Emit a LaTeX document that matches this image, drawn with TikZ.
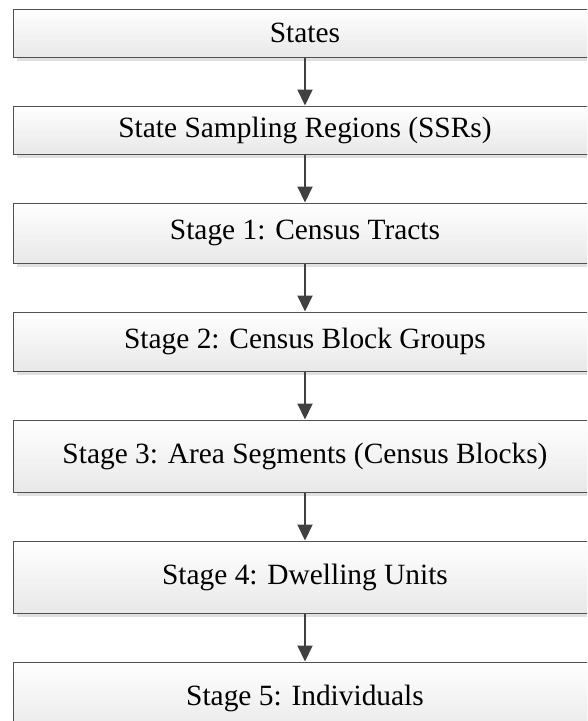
\documentclass[tikz,border=0pt]{standalone}
\usepackage{fontspec}
\setmainfont{Liberation Serif}
\definecolor{edge}{HTML}{404040}
\definecolor{rim}{HTML}{505050}
\usetikzlibrary{arrows.meta, positioning, shadows}

\begin{document}
\begin{tikzpicture}[
    x=1pt, y=1pt,
    node distance=48pt,
    lvl/.style={rectangle, draw=rim, line width=1pt,
        top color=white, bottom color=black!9,
        minimum width=584pt, inner sep=0pt,
        font=\fontsize{29.4}{35}\selectfont,
        drop shadow={shadow xshift=4pt, shadow yshift=-4pt,
            fill=black!12, opacity=1}},
    arr/.style={-{Triangle[length=16pt,width=15pt]}, line width=2pt, edge}
]
\path[use as bounding box, clip] (0,0) rectangle (587,-721);

\node[lvl, minimum height=48pt] (states) at (305,-33) {States};
\node[lvl, minimum height=48pt, below=of states] (ssr) {State Sampling Regions (SSRs)};
\node[lvl, minimum height=60pt, below=of ssr] (tract) {Stage 1: Census Tracts};
\node[lvl, minimum height=59pt, below=of tract] (group) {Stage 2: Census Block Groups};
\node[lvl, minimum height=72pt, below=of group] (block) {Stage 3: Area Segments (Census Blocks)};
\node[lvl, minimum height=72pt, below=of block] (dwell) {Stage 4: Dwelling Units};
\node[lvl, minimum height=72pt, below=of dwell] (indiv) {Stage 5: Individuals};

\draw[arr] (states) -- (ssr);
\draw[arr] (ssr) -- (tract);
\draw[arr] (tract) -- (group);
\draw[arr] (group) -- (block);
\draw[arr] (block) -- (dwell);
\draw[arr] (dwell) -- (indiv);
\end{tikzpicture}
\end{document}
